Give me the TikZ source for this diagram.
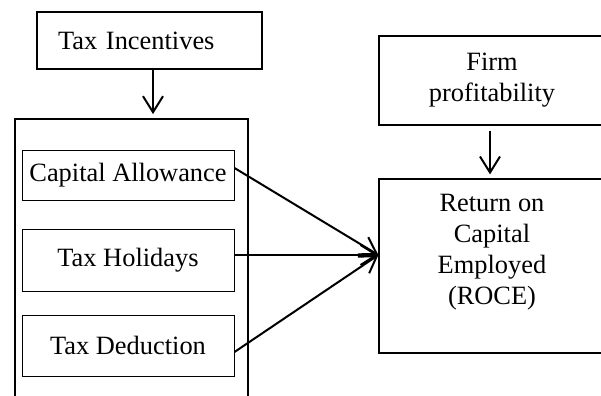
\documentclass[tikz,border=0pt]{standalone}
\usepackage{fontspec}
\setmainfont{Liberation Serif}
\usetikzlibrary{positioning, arrows.meta}

\begin{document}
\begin{tikzpicture}[x=0.5pt, y=-0.5pt,
        box/.style={draw, rectangle, line width=0.6pt, font=\fontsize{13.2}{15.5}\selectfont, align=center},
        >={Straight Barb[length=8pt,width=10pt]}]
        \useasboundingbox (0,0) rectangle (601,396);
        \clip (0,0) rectangle (601,396);

        % Top block
        \node[box, minimum width=112.5pt, minimum height=28.5pt, text width=91.5pt, inner xsep=10.5pt, align=left] (Tax) at (149.5,40.5) {Tax Incentives};

        % Group of incentives (runs past the bottom edge)
        \node[draw, rectangle, line width=0.9pt, minimum width=116.5pt, minimum height=160pt] (Group) at (131.5,279) {};
        \foreach \y/\h/\t [count=\i] in {175/25pt/Capital Allowance, 260/31pt/Tax Holidays, 345.5/30.5pt/Tax Deduction}
            \node[box, line width=0.5pt, minimum width=106pt, minimum height=\h] (I-\i) at (128,\y) {\t};

        % Outcome blocks
        \node[box, minimum width=113pt, minimum height=44.5pt] (Firm) at (492,80.5) {Firm\\profitability};
        \node[box, minimum width=113pt, minimum height=87pt] (ROCE) at (492,266) {};
        \node[box, draw=none] (ROCE-text) at ([yshift=7pt]ROCE.center) {Return on\\Capital\\Employed\\(ROCE)};

        % Arrows
        \draw[->, line width=1pt, shorten >=2pt] ([xshift=1.75pt]Tax.south) -- ([xshift=1.75pt]Tax.south |- Group.north);
        \draw[->, line width=1pt, shorten <=2.5pt, shorten >=2pt] ([xshift=-1pt]Firm.south) -- ([xshift=-1pt]ROCE.north);
        \coordinate (Hub) at ([yshift=5.5pt]ROCE.west);
        \foreach \i/\s in {1/3.5pt, 2/2.5pt, 3/-3.25pt}
            \draw[->, line width=1pt] ([yshift=\s]I-\i.east) -- (Hub);
    \end{tikzpicture}
\end{document}
